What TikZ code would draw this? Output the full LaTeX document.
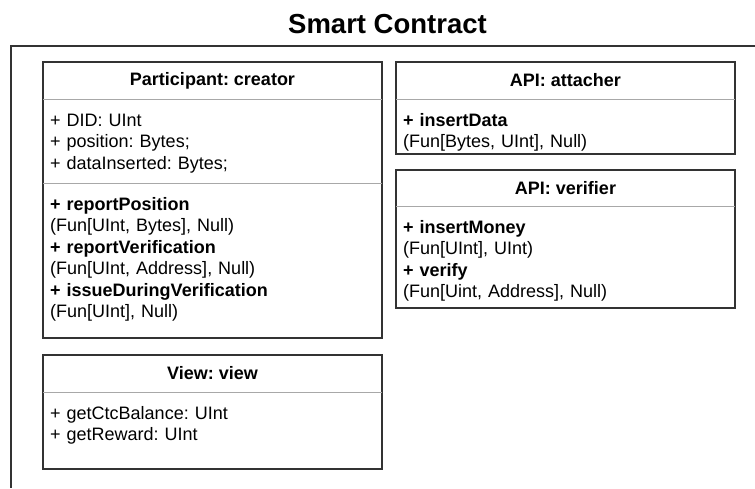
\documentclass[tikz,border=0pt]{standalone}
\usepackage{fontspec}
\setmainfont{Liberation Sans}
\frenchspacing
\definecolor{edge}{HTML}{333333}
\definecolor{rule}{HTML}{A8A8A8}

\begin{document}
\begin{tikzpicture}[x=1pt,y=-1pt,
  frame/.style = {draw=edge,line width=1.4pt},
  box/.style = {draw=edge,line width=1.4pt},
  sep/.style = {draw=rule,line width=1pt},
  head/.style = {font=\fontsize{18}{21.5}\selectfont\bfseries,inner sep=0pt},
  body/.style = {font=\fontsize{18}{21.5}\selectfont,align=left,text width=320pt,anchor=base west,inner sep=0pt}]
\useasboundingbox (0,0) rectangle (755,488);
\node[font=\fontsize{27.5}{33}\selectfont\bfseries,anchor=base,inner sep=0pt] (title) at (387.5,33) {Smart Contract};
\draw[frame] (755,46) -- (11,46) -- (11,488);

% participant
\draw[box] (43,62) rectangle (382,338);
\draw[sep] (43,99) -- (382,99);
\draw[sep] (43,183) -- (382,183);
\node[head] (creator) at (212.5,80.5) {Participant: creator};
\node[body] (creatorvars) at (50,126) {+ DID: UInt\\+ position: Bytes;\\+ dataInserted: Bytes;};
\node[body] (creatorops) at (50,210) {\textbf{+ reportPosition}\\(Fun[UInt, Bytes], Null)\\\textbf{+ reportVerification}\\(Fun[UInt, Address], Null)\\\textbf{+ issueDuringVerification}\\(Fun[UInt], Null)};

% view
\draw[box] (43,355) rectangle (382,469);
\draw[sep] (43,392) -- (382,392);
\node[head] (view) at (212.5,373.5) {View: view};
\node[body] (viewops) at (50,419) {+ getCtcBalance: UInt\\+ getReward: UInt};

% apis
\draw[box] (396,62) rectangle (735,154);
\draw[sep] (396,99) -- (735,99);
\node[head] (attacher) at (565.5,80.5) {API: attacher};
\node[body] (attacherops) at (403,126) {\textbf{+ insertData}\\(Fun[Bytes, UInt], Null)};

\draw[box] (396,170) rectangle (735,308);
\draw[sep] (396,206) -- (735,206);
\node[head] (verifier) at (565.5,188) {API: verifier};
\node[body] (verifierops) at (403,233) {\textbf{+ insertMoney}\\(Fun[UInt], UInt)\\\textbf{+ verify}\\(Fun[Uint, Address], Null)};
\end{tikzpicture}
\end{document}
